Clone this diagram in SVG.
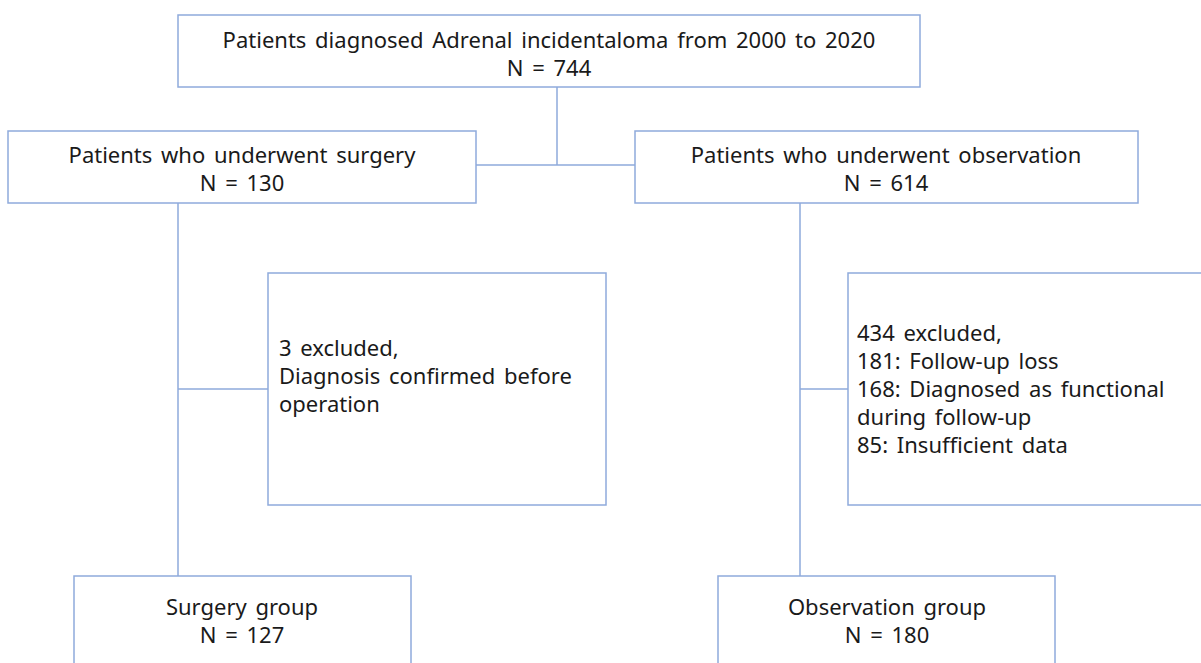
<svg xmlns="http://www.w3.org/2000/svg" width="1201" height="663" viewBox="0 0 1201 663">
<style>
.box{fill:#ffffff;stroke:#8faadc;stroke-width:1.5}
.ln{fill:none;stroke:#8faadc;stroke-width:1.5}
text{font-family:"Noto Sans","Open Sans","Liberation Sans",sans-serif;font-size:22px;word-spacing:3px;fill:#1a1a1a}
.c{text-anchor:middle}
</style>
<rect width="1201" height="663" fill="#ffffff"/>
<g id="connectors">
<path class="ln" d="M557,87 V165 M476,165 H635 M178,203 V576 M178,389 H268 M800,203 V576 M800,389 H848"/>
</g>
<g id="top">
<rect class="box" x="178" y="15" width="742" height="72"/>
<text class="c" x="549" y="48">Patients diagnosed Adrenal incidentaloma from 2000 to 2020</text>
<text class="c" x="549" y="76">N = 744</text>
</g>
<g id="surgery">
<rect class="box" x="8" y="131" width="468" height="72"/>
<text class="c" x="242" y="163">Patients who underwent surgery</text>
<text class="c" x="242" y="191">N = 130</text>
</g>
<g id="observation">
<rect class="box" x="635" y="131" width="503" height="72"/>
<text class="c" x="886" y="163">Patients who underwent observation</text>
<text class="c" x="886" y="191">N = 614</text>
</g>
<g id="excl-surgery">
<rect class="box" x="268" y="273" width="338" height="232"/>
<text x="279" y="356">3 excluded,</text>
<text x="279" y="384">Diagnosis confirmed before</text>
<text x="279" y="412">operation</text>
</g>
<g id="excl-observation">
<rect class="box" x="848" y="273" width="360" height="232"/>
<text x="857" y="341">434 excluded,</text>
<text x="857" y="369">181: Follow-up loss</text>
<text x="857" y="397">168: Diagnosed as functional</text>
<text x="857" y="425">during follow-up</text>
<text x="857" y="453">85: Insufficient data</text>
</g>
<g id="surgery-group">
<rect class="box" x="74" y="576" width="337" height="100"/>
<text class="c" x="242" y="615">Surgery group</text>
<text class="c" x="242" y="643">N = 127</text>
</g>
<g id="observation-group">
<rect class="box" x="718" y="576" width="337" height="100"/>
<text class="c" x="887" y="615">Observation group</text>
<text class="c" x="887" y="643">N = 180</text>
</g>
</svg>
